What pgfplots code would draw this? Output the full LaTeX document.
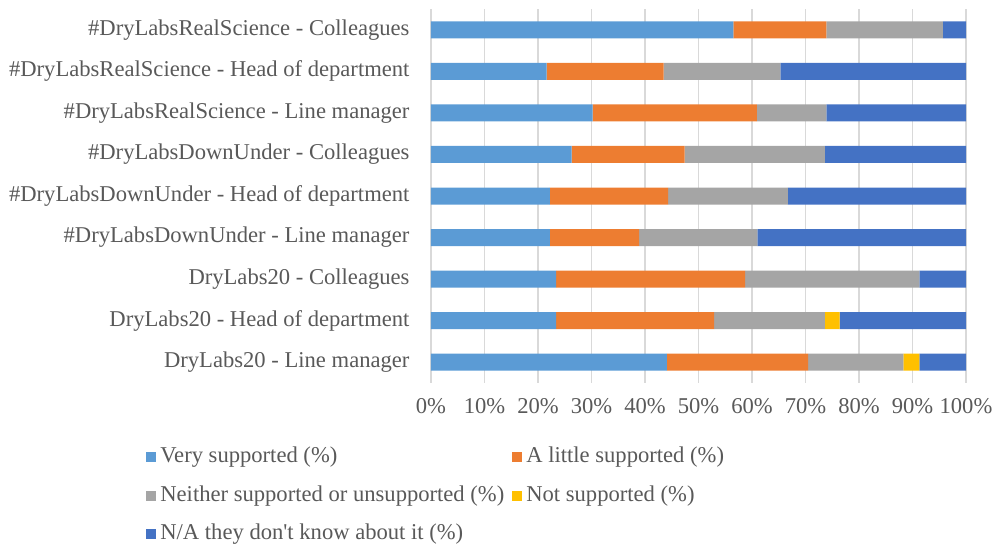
\documentclass[border=0pt]{standalone}
\usepackage{pgfplots}
\pgfplotsset{compat=1.18}
\usepackage{fontspec}
\setmainfont{Liberation Serif}
\definecolor{c1}{HTML}{5B9BD5}
\definecolor{c2}{HTML}{ED7D31}
\definecolor{c3}{HTML}{A5A5A5}
\definecolor{c4}{HTML}{FFC000}
\definecolor{c5}{HTML}{4472C4}
\definecolor{txt}{HTML}{595959}
\definecolor{grd}{HTML}{D9D9D9}
\begin{document}
\fontsize{11.3pt}{13pt}\selectfont
\begin{tikzpicture}
\useasboundingbox (-215.5pt,-81pt) rectangle (282pt,191.5pt);
\begin{axis}[
  at={(0,0)}, anchor=south west,
  scale only axis,
  width=267.5pt, height=187pt,
  xbar stacked,
  bar width=8.5pt,
  xmin=0, xmax=100,
  ymin=-0.5, ymax=8.5,
  axis line style={draw=none},
  xtick={0,10,...,100},
  xticklabels={0\%,10\%,20\%,30\%,40\%,50\%,60\%,70\%,80\%,90\%,100\%},
  ytick={0,...,8},
  yticklabels={DryLabs20 - Line manager, DryLabs20 - Head of department, DryLabs20 - Colleagues, \#DryLabsDownUnder - Line manager, \#DryLabsDownUnder - Head of department, \#DryLabsDownUnder - Colleagues, \#DryLabsRealScience - Line manager, \#DryLabsRealScience - Head of department, \#DryLabsRealScience - Colleagues},
  major tick length=0pt,
  tick style={draw=none},
  xmajorgrids,
  grid style={grd, line width=0.75pt},
  every tick label/.append style={font=\fontsize{11.3pt}{13pt}\selectfont, text=txt},
  yticklabel style={xshift=-6.8pt},
  xticklabel style={yshift=-4pt},
  /pgf/number format/assume math mode=true,
  legend columns=2,
  legend cell align=left,
  legend style={at={(-142.5pt,-29.5pt)}, anchor=north west, draw=none, inner sep=0pt,
    font=\fontsize{11.3pt}{13pt}\selectfont, text=txt,
    nodes={text height=8pt, text depth=2.5pt, inner ysep=2pt, inner xsep=2pt},
    row sep=4.8pt,
    /tikz/every even column/.append style={column sep=2pt}},
  legend image code/.code={\fill[#1] (0pt,-2.5pt) rectangle (5pt,2.5pt);},
]
\addplot[fill=c1, draw=none] coordinates {(44.1,0) (23.4,1) (23.4,2) (22.2,3) (22.2,4) (26.3,5) (30.2,6) (21.6,7) (56.5,8)};
\addlegendentry{Very supported (\%)}
\addplot[fill=c2, draw=none] coordinates {(26.4,0) (29.5,1) (35.3,2) (16.7,3) (22.1,4) (21.1,5) (30.7,6) (21.9,7) (17.4,8)};
\addlegendentry{A little supported (\%)}
\addplot[fill=c3, draw=none] coordinates {(17.8,0) (20.7,1) (32.6,2) (22.1,3) (22.4,4) (26.2,5) (13.0,6) (21.8,7) (21.8,8)};
\addlegendentry{Neither supported or unsupported (\%)}
\addplot[fill=c4, draw=none] coordinates {(3.0,0) (2.8,1) (0,2) (0,3) (0,4) (0,5) (0,6) (0,7) (0,8)};
\addlegendentry{Not supported (\%)}
\addplot[fill=c5, draw=none] coordinates {(8.7,0) (23.6,1) (8.7,2) (39.0,3) (33.3,4) (26.4,5) (26.1,6) (34.7,7) (4.3,8)};
\addlegendentry{N/A they don\textquotesingle t know about it (\%)}
\end{axis}
\end{tikzpicture}
\end{document}
